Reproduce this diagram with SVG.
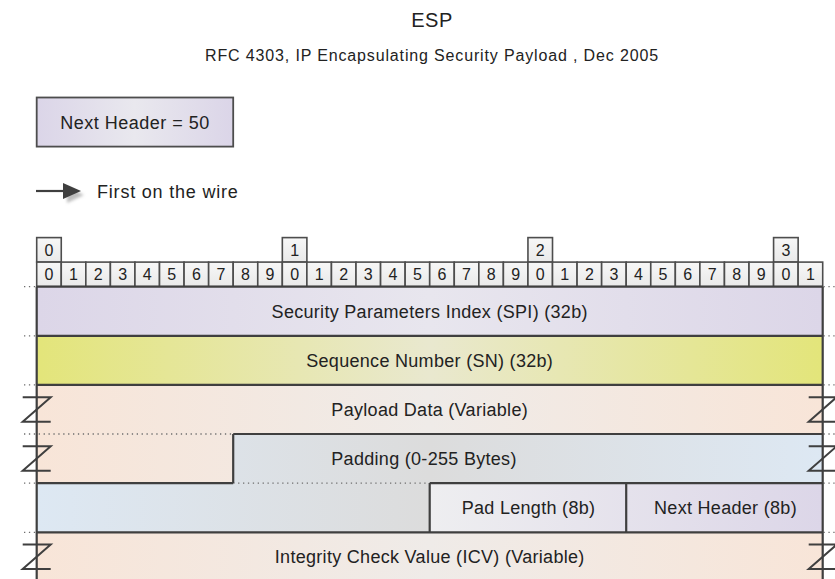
<svg xmlns="http://www.w3.org/2000/svg" width="835" height="579" viewBox="0 0 835 579">
<style>
text{font-family:"Liberation Sans",Arial,sans-serif;fill:#222;}
.lbl{font-size:18px;text-anchor:middle;letter-spacing:0.3px;}
.bit{font-size:16px;text-anchor:middle;}
.bitbox{fill:url(#gBit);stroke:#4d4d4d;stroke-width:1.6;}
.edge{fill:none;stroke:#3f3f3f;stroke-width:2.2;}
.dot{fill:none;stroke:#6e6e6e;stroke-width:1.3;stroke-dasharray:1.3 3.6;}
.z{fill:none;stroke:#3f3f3f;stroke-width:2;}
</style>
<defs>
<linearGradient id="gBit" x1="0" y1="0" x2="0" y2="1"><stop offset="0" stop-color="#f7f7f7"/><stop offset="1" stop-color="#e9e9e9"/></linearGradient>
<linearGradient id="gLav" gradientUnits="userSpaceOnUse" x1="36.7" y1="0" x2="822.7" y2="0"><stop offset="0" stop-color="#dcd6e8"/><stop offset="0.5" stop-color="#e8e6ee"/><stop offset="1" stop-color="#dcd6e8"/></linearGradient>
<linearGradient id="gYel" gradientUnits="userSpaceOnUse" x1="36.7" y1="0" x2="822.7" y2="0"><stop offset="0" stop-color="#e3e57a"/><stop offset="0.5" stop-color="#e9e8cf"/><stop offset="1" stop-color="#e3e57a"/></linearGradient>
<linearGradient id="gPea" gradientUnits="userSpaceOnUse" x1="36.7" y1="0" x2="822.7" y2="0"><stop offset="0" stop-color="#f8e5d8"/><stop offset="0.5" stop-color="#efebe8"/><stop offset="1" stop-color="#f8e5d8"/></linearGradient>
<linearGradient id="gBlu" gradientUnits="userSpaceOnUse" x1="36.7" y1="0" x2="822.7" y2="0"><stop offset="0" stop-color="#dde8f3"/><stop offset="0.5" stop-color="#dcdcdc"/><stop offset="1" stop-color="#dde8f3"/></linearGradient>
<linearGradient id="gLav2" gradientUnits="userSpaceOnUse" x1="36.7" y1="0" x2="822.7" y2="0"><stop offset="0" stop-color="#dcd6e8"/><stop offset="0.5" stop-color="#eeeef0"/><stop offset="1" stop-color="#dcd6e8"/></linearGradient>
<linearGradient id="gBox" x1="0" y1="0" x2="1" y2="0"><stop offset="0" stop-color="#dbd5e8"/><stop offset="0.5" stop-color="#e9e8ee"/><stop offset="1" stop-color="#dbd5e8"/></linearGradient>
<filter id="blur" x="-50%" y="-50%" width="200%" height="200%"><feGaussianBlur stdDeviation="1.5"/></filter>
</defs>

<g id="title">
<text x="432" y="27" style="font-size:20px;text-anchor:middle;letter-spacing:0.5px;">ESP</text>
<text x="432" y="61" style="font-size:16px;text-anchor:middle;letter-spacing:0.85px;">RFC 4303, IP Encapsulating Security Payload , Dec 2005</text>
</g>

<g id="next-header-box">
<rect x="36.7" y="97.5" width="196.5" height="49.1" fill="url(#gBox)" stroke="#4d4d4d" stroke-width="1.8"/>
<text x="135" y="128.5" style="font-size:18px;text-anchor:middle;letter-spacing:0.5px;">Next Header = 50</text>
</g>

<g id="legend">
<polygon points="67,187 84,195 67,203" fill="#bdbdbd" filter="url(#blur)"/>
<line x1="36" y1="191" x2="66" y2="191" stroke="#3f3f3f" stroke-width="2.2"/>
<polygon points="63,183 81,191 63,199" fill="#3f3f3f"/>
<text x="97" y="197.5" style="font-size:18px;letter-spacing:0.8px;">First on the wire</text>
</g>

<g id="bits">
<rect class="bitbox" x="36.70" y="237.6" width="24.56" height="24.5"/>
<rect class="bitbox" x="282.33" y="237.6" width="24.56" height="24.5"/>
<rect class="bitbox" x="527.95" y="237.6" width="24.56" height="24.5"/>
<rect class="bitbox" x="773.58" y="237.6" width="24.56" height="24.5"/>
<text class="bit" x="48.98" y="255.8">0</text>
<text class="bit" x="294.61" y="255.8">1</text>
<text class="bit" x="540.23" y="255.8">2</text>
<text class="bit" x="785.86" y="255.8">3</text>
<rect class="bitbox" x="36.70" y="262.1" width="24.56" height="24.6"/>
<rect class="bitbox" x="61.26" y="262.1" width="24.56" height="24.6"/>
<rect class="bitbox" x="85.83" y="262.1" width="24.56" height="24.6"/>
<rect class="bitbox" x="110.39" y="262.1" width="24.56" height="24.6"/>
<rect class="bitbox" x="134.95" y="262.1" width="24.56" height="24.6"/>
<rect class="bitbox" x="159.51" y="262.1" width="24.56" height="24.6"/>
<rect class="bitbox" x="184.08" y="262.1" width="24.56" height="24.6"/>
<rect class="bitbox" x="208.64" y="262.1" width="24.56" height="24.6"/>
<rect class="bitbox" x="233.20" y="262.1" width="24.56" height="24.6"/>
<rect class="bitbox" x="257.76" y="262.1" width="24.56" height="24.6"/>
<rect class="bitbox" x="282.33" y="262.1" width="24.56" height="24.6"/>
<rect class="bitbox" x="306.89" y="262.1" width="24.56" height="24.6"/>
<rect class="bitbox" x="331.45" y="262.1" width="24.56" height="24.6"/>
<rect class="bitbox" x="356.01" y="262.1" width="24.56" height="24.6"/>
<rect class="bitbox" x="380.58" y="262.1" width="24.56" height="24.6"/>
<rect class="bitbox" x="405.14" y="262.1" width="24.56" height="24.6"/>
<rect class="bitbox" x="429.70" y="262.1" width="24.56" height="24.6"/>
<rect class="bitbox" x="454.26" y="262.1" width="24.56" height="24.6"/>
<rect class="bitbox" x="478.83" y="262.1" width="24.56" height="24.6"/>
<rect class="bitbox" x="503.39" y="262.1" width="24.56" height="24.6"/>
<rect class="bitbox" x="527.95" y="262.1" width="24.56" height="24.6"/>
<rect class="bitbox" x="552.51" y="262.1" width="24.56" height="24.6"/>
<rect class="bitbox" x="577.08" y="262.1" width="24.56" height="24.6"/>
<rect class="bitbox" x="601.64" y="262.1" width="24.56" height="24.6"/>
<rect class="bitbox" x="626.20" y="262.1" width="24.56" height="24.6"/>
<rect class="bitbox" x="650.76" y="262.1" width="24.56" height="24.6"/>
<rect class="bitbox" x="675.33" y="262.1" width="24.56" height="24.6"/>
<rect class="bitbox" x="699.89" y="262.1" width="24.56" height="24.6"/>
<rect class="bitbox" x="724.45" y="262.1" width="24.56" height="24.6"/>
<rect class="bitbox" x="749.01" y="262.1" width="24.56" height="24.6"/>
<rect class="bitbox" x="773.58" y="262.1" width="24.56" height="24.6"/>
<rect class="bitbox" x="798.14" y="262.1" width="24.56" height="24.6"/>
<text class="bit" x="48.98" y="280.4">0</text>
<text class="bit" x="73.54" y="280.4">1</text>
<text class="bit" x="98.11" y="280.4">2</text>
<text class="bit" x="122.67" y="280.4">3</text>
<text class="bit" x="147.23" y="280.4">4</text>
<text class="bit" x="171.79" y="280.4">5</text>
<text class="bit" x="196.36" y="280.4">6</text>
<text class="bit" x="220.92" y="280.4">7</text>
<text class="bit" x="245.48" y="280.4">8</text>
<text class="bit" x="270.04" y="280.4">9</text>
<text class="bit" x="294.61" y="280.4">0</text>
<text class="bit" x="319.17" y="280.4">1</text>
<text class="bit" x="343.73" y="280.4">2</text>
<text class="bit" x="368.29" y="280.4">3</text>
<text class="bit" x="392.86" y="280.4">4</text>
<text class="bit" x="417.42" y="280.4">5</text>
<text class="bit" x="441.98" y="280.4">6</text>
<text class="bit" x="466.54" y="280.4">7</text>
<text class="bit" x="491.11" y="280.4">8</text>
<text class="bit" x="515.67" y="280.4">9</text>
<text class="bit" x="540.23" y="280.4">0</text>
<text class="bit" x="564.79" y="280.4">1</text>
<text class="bit" x="589.36" y="280.4">2</text>
<text class="bit" x="613.92" y="280.4">3</text>
<text class="bit" x="638.48" y="280.4">4</text>
<text class="bit" x="663.04" y="280.4">5</text>
<text class="bit" x="687.61" y="280.4">6</text>
<text class="bit" x="712.17" y="280.4">7</text>
<text class="bit" x="736.73" y="280.4">8</text>
<text class="bit" x="761.29" y="280.4">9</text>
<text class="bit" x="785.86" y="280.4">0</text>
<text class="bit" x="810.42" y="280.4">1</text>
</g>

<g id="spi">
<rect x="36.7" y="286.7" width="786" height="49.1" fill="url(#gLav)"/>
<text class="lbl" x="429.7" y="317.5">Security Parameters Index (SPI) (32b)</text>
</g>
<g id="sn">
<rect x="36.7" y="335.8" width="786" height="49.1" fill="url(#gYel)"/>
<text class="lbl" x="429.7" y="366.6">Sequence Number (SN) (32b)</text>
</g>
<g id="payload">
<path d="M36.7,384.9 H822.7 V434 H233.2 V483.1 H36.7 Z" fill="url(#gPea)"/>
<text class="lbl" x="429.7" y="415.7">Payload Data (Variable)</text>
</g>
<g id="padding">
<path d="M233.2,434 H822.7 V483.1 H429.7 V532.3 H36.7 V483.1 H233.2 Z" fill="url(#gBlu)"/>
<text class="lbl" x="424" y="464.8">Padding (0-255 Bytes)</text>
</g>
<g id="pad-length">
<rect x="429.7" y="483.1" width="196.5" height="49.2" fill="url(#gLav2)"/>
<text class="lbl" x="528.5" y="514">Pad Length (8b)</text>
</g>
<g id="next-header">
<rect x="626.2" y="483.1" width="196.5" height="49.2" fill="url(#gLav2)"/>
<text class="lbl" x="725.5" y="514">Next Header (8b)</text>
</g>
<g id="icv">
<rect x="36.7" y="532.3" width="786" height="50" fill="url(#gPea)"/>
<text class="lbl" x="429.7" y="563.2">Integrity Check Value (ICV) (Variable)</text>
</g>

<g id="connectors">
<path class="dot" d="M24,286.7 H36 M24,335.8 H36 M24,384.9 H36 M24,434 H233 M24,483.1 H36 M233.2,483.1 H429 M24,532.3 H36"/>
<path class="dot" d="M823.5,286.7 H835 M823.5,335.8 H835 M823.5,384.9 H835 M823.5,434 H835 M823.5,483.1 H835 M823.5,532.3 H835"/>
<path class="edge" d="M36.7,286.7 H822.7 M36.7,335.8 H822.7 M36.7,384.9 H822.7 M233.2,434 H822.7 M233.2,434 V483.1 M36.7,483.1 H233.2 M429.7,483.1 H822.7 M429.7,483.1 V532.3 M626.2,483.1 V532.3 M36.7,532.3 H822.7"/>
<path class="edge" d="M36.7,286.7 V579 M822.7,286.7 V579"/>
<path class="z" d="M22.7,397.2 H50.7 L22.7,421.7 H50.7 M808.7,397.2 H836.7 L808.7,421.7 H836.7"/>
<path class="z" d="M22.7,446.3 H50.7 L22.7,470.8 H50.7 M808.7,446.3 H836.7 L808.7,470.8 H836.7"/>
<path class="z" d="M22.7,544.6 H50.7 L22.7,569.1 H50.7 M808.7,544.6 H836.7 L808.7,569.1 H836.7"/>
</g>
</svg>
